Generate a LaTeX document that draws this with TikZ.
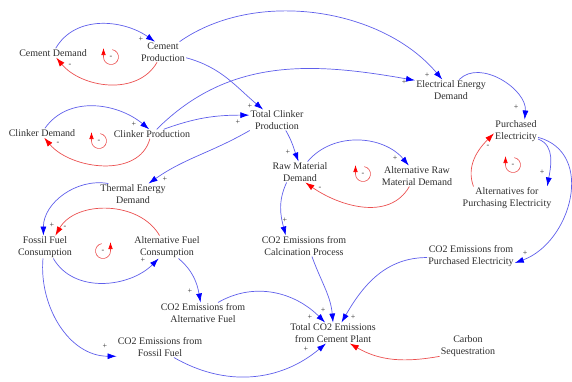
\documentclass[tikz,border=0pt]{standalone}
\usepackage{fontspec}
\setmainfont{Liberation Serif}
\usetikzlibrary{arrows.meta}
\definecolor{lnblue}{RGB}{95,95,235}
\definecolor{lnred}{RGB}{235,80,80}
\definecolor{txt}{RGB}{45,45,45}
\begin{document}
\begin{tikzpicture}[x=1pt,y=1pt,
  var/.style={align=center,inner sep=1pt,text=txt,font=\fontsize{10}{11.5}\selectfont},
  plink/.style={lnblue,line width=0.7pt,-{Latex[length=9pt,width=6pt,color=blue]}},
  nlink/.style={lnred,line width=0.7pt,-{Latex[length=9pt,width=6pt,color=red]}},
  sgn/.style={inner sep=0pt,text=txt,font=\fontsize{8}{8}\selectfont},
  loopc/.style={lnred,line width=0.6pt,-{Latex[length=7pt,width=4.5pt,color=red]}}]
\useasboundingbox (0,0) rectangle (572,-381);
\node[var] (cdem) at (53,-53) {Cement Demand};
\node[var] (cprod) at (163,-52) {Cement\\Production};
\node[var] (kdem) at (42,-133) {Clinker Demand};
\node[var] (kprod) at (152,-134) {Clinker Production};
\node[var] (tclk) at (277,-120) {Total Clinker\\Production};
\node[var] (eed) at (451,-90) {Electrical Energy\\Demand};
\node[var] (pel) at (516,-131) {Purchased\\Electricity};
\node[var] (ape) at (507,-198) {Alternatives for\\Purchasing Electricity};
\node[var] (rmd) at (300,-172) {Raw Material\\Demand};
\node[var] (armd) at (417,-176) {Alternative Raw\\Material Demand};
\node[var] (ted) at (133,-194) {Thermal Energy\\Demand};
\node[var] (ffc) at (45,-247) {Fossil Fuel\\Consumption};
\node[var] (afc) at (167,-247) {Alternative Fuel\\Consumption};
\node[var] (ccp) at (304,-246) {CO2 Emissions from\\Calcination Process};
\node[var] (cpe) at (471,-256) {CO2 Emissions from\\Purchased Electricity};
\node[var] (caf) at (203,-313) {CO2 Emissions from\\Alternative Fuel};
\node[var] (cff) at (160,-347) {CO2 Emissions from\\Fossil Fuel};
\node[var] (tco) at (333,-333) {Total CO2 Emissions\\from Cement Plant};
\node[var] (cseq) at (468,-346) {Carbon\\Sequestration};

\draw[plink] (cdem.60) to[out=60,in=145] (cprod.128);
\draw[nlink] (cprod.240) to[out=-120,in=-50] (cdem.305);
\draw[plink] (cprod.32) to[out=35,in=130,looseness=0.9] (eed.130);
\draw[plink] (cprod.-14) to[out=-15,in=140] (tclk.143);
\draw[plink] (kdem.58) to[out=55,in=140] (kprod.121);
\draw[nlink] (kprod.246) to[out=-105,in=-50] (kdem.295);
\draw[plink] (kprod.22) to[out=20,in=180] (tclk.170);
\draw[plink] (kprod.45) to[out=45,in=170] (eed.165);
\draw[plink] (tclk.201) to[out=210,in=35] (ted.34);
\draw[plink] (tclk.-50) to[out=-60,in=110] (rmd.98);
\draw[plink] (rmd.54) to[out=50,in=130] (armd.128);
\draw[nlink] (armd.234) to[out=-120,in=-35] (rmd.-63);
\draw[plink] (rmd.218) to[out=-115,in=105] (ccp.150);
\draw[plink] (eed.52) to[out=45,in=85] (pel.53);
\draw[plink] (pel.-20) to[out=-20,in=80] (ape.16);
\draw[nlink] (ape.161) to[out=110,in=225] (pel.186);
\draw[plink] (pel.-16) to[out=-15,in=20,looseness=1.2] (cpe.-9);
\draw[plink] (ted.157) to[out=170,in=90] (ffc.98);
\draw[nlink] (afc.123) to[out=120,in=60] (ffc.48);
\draw[plink] (ffc.-54) to[out=-60,in=-135] (afc.-126);
\draw[plink] (afc.-45) to[out=-40,in=100] (caf.103);
\draw[plink] (ffc.-100) to[out=-95,in=180] (cff.192);
\draw[plink] (caf.35) to[out=30,in=135] (tco.127);
\draw[plink] (ccp.-53) to[out=-70,in=95] (tco.90);
\draw[plink] (cpe.182) to[out=180,in=60] (tco.51);
\draw[plink] (cff.-37) to[out=-30,in=-140] (tco.-124);
\draw[nlink] (cseq.200) to[out=190,in=-30] (tco.-32);

\draw[loopc] (111,-57) ++(80:7.5) arc[start angle=80,end angle=-180,radius=7.5] -- ++(0,9);
\draw[loopc] (99,-141) ++(80:7.5) arc[start angle=80,end angle=-180,radius=7.5] -- ++(0,9);
\draw[loopc] (363,-174) ++(80:7.5) arc[start angle=80,end angle=-180,radius=7.5] -- ++(0,9);
\draw[loopc] (513,-165) ++(80:7.5) arc[start angle=80,end angle=-180,radius=7.5] -- ++(0,9);
\draw[loopc] (103,-251) ++(100:7.5) arc[start angle=100,end angle=360,radius=7.5] -- ++(0,9);
\foreach \x/\y [count=\i] in {111/57,99/141,363/174,513/165,103/251}
  \node[sgn] (lp\i) at (\x,-\y) {-};

\foreach \x/\y [count=\i] in {141/39,427/75,404/82,250/106,134/124,238/122,165/179,
  288/152,395/158,285/220,516/107,542/172,525/253,52/225,143/260,190/291,105/346,
  310/317,323/310,353/317,306/349}
  \node[sgn] (p\i) at (\x,-\y) {+};
\foreach \x/\y [count=\i] in {70/65,58/143,320/188,488/146,65/227}
  \node[sgn] (m\i) at (\x,-\y) {-};
\end{tikzpicture}
\end{document}
